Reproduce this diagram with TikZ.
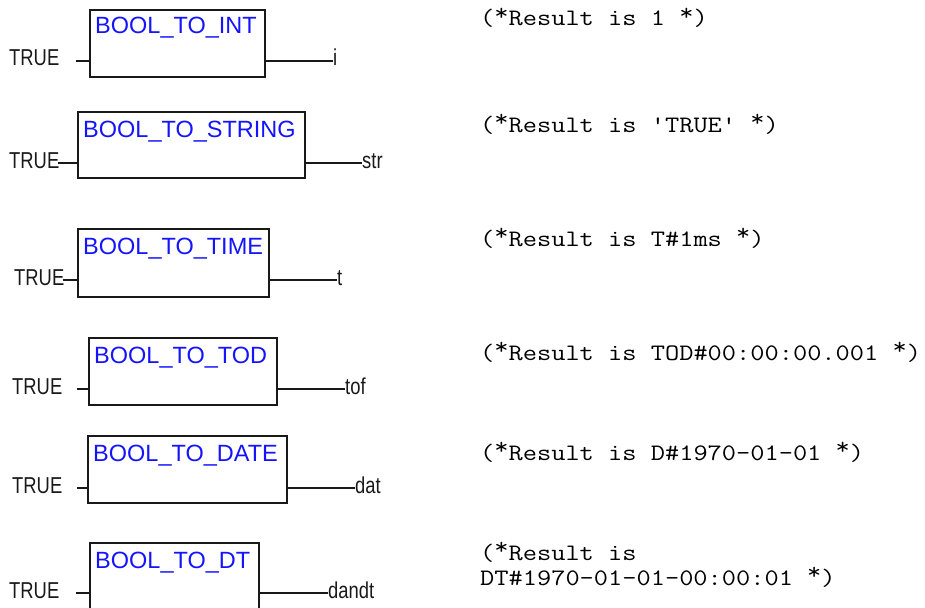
\documentclass[tikz,border=0pt]{standalone}
\usepackage{fontspec}
\setmainfont{Liberation Sans}
\newfontfamily\titlefont{Liberation Sans}
\newfontfamily\narrowfont[FakeStretch=0.8]{Liberation Sans}
\newfontfamily\monofont[FakeStretch=1.17]{Latin Modern Mono}
\newcommand\rstar{\raisebox{0.22em}{*}}
\definecolor{fbblue}{RGB}{20,20,255}
\definecolor{fbline}{RGB}{25,25,25}
\tikzset{
  fbox/.style={draw=fbline, line width=2pt, inner sep=0pt, outer sep=0pt, anchor=north west},
  fbtitle/.style={text=fbblue, font=\titlefont\fontsize{23.5}{26}\selectfont, inner sep=0pt, anchor=base west},
  pinlabel/.style={text=fbline, font=\narrowfont\fontsize{23}{26}\selectfont, inner sep=0pt, anchor=base west},
  comment/.style={text=black, font=\monofont\fontsize{23.6}{21}\selectfont, inner sep=0pt, anchor=base west},
  wire/.style={draw=fbline, line width=2pt}
}
\begin{document}
\begin{tikzpicture}[x=1pt,y=-1pt]
\useasboundingbox (0,0) rectangle (925,607);
\clip (0,0) rectangle (925,607);
% ---- block 1
\node[fbox, minimum width=175pt, minimum height=67pt] (b1) at (90,10) {};
\node[fbtitle] (n1) at (95,34) {BOOL\_TO\_INT};
\node[pinlabel] (t1) at (9,66) {TRUE};
\coordinate (i1) at (76,61);
\coordinate (o1) at (333,61);
\draw[wire] (i1) -- (i1 -| b1.west);
\draw[wire] (o1 -| b1.east) -- (o1);
\node[pinlabel] (v1) at (333,66) {i};
\node[comment] (c1) at (480,26) {(\rstar Result is 1 \rstar)};
% ---- block 2
\node[fbox, minimum width=227pt, minimum height=66pt] (b2) at (78,112) {};
\node[fbtitle] (n2) at (83,137) {BOOL\_TO\_STRING};
\node[pinlabel] (t2) at (9,168) {TRUE};
\coordinate (i2) at (58,163);
\coordinate (o2) at (362,163);
\draw[wire] (i2) -- (i2 -| b2.west);
\draw[wire] (o2 -| b2.east) -- (o2);
\node[pinlabel] (v2) at (362,168) {str};
\node[comment] (c2) at (480,132) {(\rstar Result is 'TRUE' \rstar)};
% ---- block 3
\node[fbox, minimum width=191pt, minimum height=68pt] (b3) at (78,229) {};
\node[fbtitle] (n3) at (83,254) {BOOL\_TO\_TIME};
\node[pinlabel] (t3) at (14,285) {TRUE};
\coordinate (i3) at (63,280);
\coordinate (o3) at (337,280);
\draw[wire] (i3) -- (i3 -| b3.west);
\draw[wire] (o3 -| b3.east) -- (o3);
\node[pinlabel] (v3) at (337,285) {t};
\node[comment] (c3) at (480,246) {(\rstar Result is T\#1ms \rstar)};
% ---- block 4
\node[fbox, minimum width=188pt, minimum height=67pt] (b4) at (89,338) {};
\node[fbtitle] (n4) at (94,363) {BOOL\_TO\_TOD};
\node[pinlabel] (t4) at (12,394) {TRUE};
\coordinate (i4) at (77,389);
\coordinate (o4) at (345,389);
\draw[wire] (i4) -- (i4 -| b4.west);
\draw[wire] (o4 -| b4.east) -- (o4);
\node[pinlabel] (v4) at (345,394) {tof};
\node[comment] (c4) at (480,360) {(\rstar Result is TOD\#00:00:00.001 \rstar)};
% ---- block 5
\node[fbox, minimum width=199pt, minimum height=67pt] (b5) at (88,436) {};
\node[fbtitle] (n5) at (93,461) {BOOL\_TO\_DATE};
\node[pinlabel] (t5) at (12,493) {TRUE};
\coordinate (i5) at (77,488);
\coordinate (o5) at (355,488);
\draw[wire] (i5) -- (i5 -| b5.west);
\draw[wire] (o5 -| b5.east) -- (o5);
\node[pinlabel] (v5) at (355,493) {dat};
\node[comment] (c5) at (480,460) {(\rstar Result is D\#1970-01-01 \rstar)};
% ---- block 6
\node[fbox, minimum width=169pt, minimum height=67pt] (b6) at (90,543) {};
\node[fbtitle] (n6) at (95,568) {BOOL\_TO\_DT};
\node[pinlabel] (t6) at (9,598) {TRUE};
\coordinate (i6) at (76,593);
\coordinate (o6) at (328,593);
\draw[wire] (i6) -- (i6 -| b6.west);
\draw[wire] (o6 -| b6.east) -- (o6);
\node[pinlabel] (v6) at (328,598) {dandt};
\node[comment, text depth=1pt] (c6a) at (480,560) {(\rstar Result is};
\node[comment, text height=14pt] (c6b) at (480,585) {DT\#1970-01-01-00:00:01 \rstar)};
\end{tikzpicture}
\end{document}
